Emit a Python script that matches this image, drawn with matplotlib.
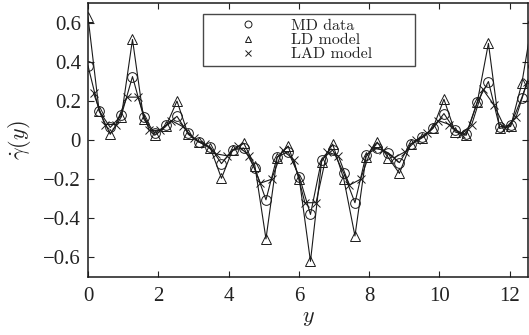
import numpy as np
import matplotlib
matplotlib.use("Agg")
import matplotlib.pyplot as plt
from matplotlib.lines import Line2D

plt.rcParams['mathtext.fontset'] = 'cm'
plt.rcParams['axes.unicode_minus'] = True

# grid spacing of the sampled profile (y coordinate)
dy = 0.3165
n_pts = 41

md_data = [0.38, 0.15, 0.065, 0.127, 0.325, 0.12, 0.035, 0.075, 0.122, 0.035,
           -0.01, -0.035, -0.12, -0.05, -0.04, -0.145, -0.305, -0.085, -0.06, -0.187,
           -0.38,
           -0.10, -0.05, -0.17, -0.32, -0.075, -0.04, -0.065, -0.115, -0.02,
           0.015, 0.06, 0.136, 0.05, 0.03, 0.195, 0.30, 0.068, 0.076, 0.217, 0.38]

ld_model = [0.63, 0.15, 0.03, 0.12, 0.515, 0.11, 0.025, 0.07, 0.20, 0.03,
            -0.01, -0.04, -0.195, -0.05, -0.015, -0.13, -0.505, -0.09, -0.03, -0.20,
            -0.62,
            -0.11, -0.02, -0.20, -0.49, -0.085, -0.01, -0.09, -0.17, -0.02,
            0.01, 0.06, 0.209, 0.042, 0.025, 0.195, 0.495, 0.06, 0.07, 0.29, 0.63]

# LAD model sampled at mid points of the grid
lad_model = [0.24, 0.08, 0.08, 0.22, 0.22, 0.05, 0.05, 0.10, 0.07, 0.01,
             -0.02, -0.07, -0.08, -0.03, -0.08, -0.22, -0.20, -0.05, -0.10, -0.32,
             -0.32, -0.06, -0.08, -0.23, -0.20, -0.04, -0.05, -0.09, -0.06, 0.0,
             0.035, 0.10, 0.08, 0.03, 0.08, 0.26, 0.18, 0.06, 0.12, 0.30]

x_ticks = [0, 2, 4, 6, 8, 10, 12]
y_ticks = [-0.6, -0.4, -0.2, 0, 0.2, 0.4, 0.6]
labels = ['MD data', 'LD model', 'LAD model']

y_grid = np.arange(n_pts) * dy
y_mid = (np.arange(len(lad_model)) + 0.5) * dy

W, H = 529, 335
fig = plt.figure(figsize=(W / 100, H / 100), dpi=100)
ax = fig.add_axes([88 / W, 1 - 277 / H, 440 / W, 273.7 / H])

col = '#1a1a1a'
lw = 0.8
ax.plot(y_grid, ld_model, '-', color=col, lw=lw, marker='^', ms=7, mfc='none',
        mec=col, mew=0.7)
ax.plot(y_grid, md_data, '-', color=col, lw=lw, marker='o', ms=7, mfc='none',
        mec=col, mew=0.7)
ax.plot(y_mid, lad_model, '-', color=col, lw=lw, marker='x', ms=5.5,
        mec=col, mew=0.7)

ax.set_xlim(0, 12.52)
ax.set_ylim(-0.7, 0.7)
ax.set_xticks(x_ticks)
ax.set_yticks(y_ticks)
ax.set_xticklabels([str(t) for t in x_ticks])
ax.set_yticklabels(['\u2212' + ('%g' % abs(t)) if t < 0 else ('%g' % t) for t in y_ticks])
for lab in ax.get_xticklabels() + ax.get_yticklabels():
    lab.set_fontfamily('Liberation Serif')
    lab.set_fontsize(15)
    lab.set_color('#222222')
ax.tick_params(direction='in', length=4, width=0.8, top=True, right=True,
               pad=5, colors='#222222')
ax.tick_params(axis='x', pad=7)
for s in ax.spines.values():
    s.set_linewidth(1.1)
    s.set_color('#1a1a1a')

ax.set_xlabel('$y$', fontsize=16, labelpad=2, color='#222222')
ax.set_ylabel(r'$\dot{\gamma}(y)$', fontsize=16, labelpad=7, color='#222222')

handles = [Line2D([], [], ls='none', marker='o', ms=5, mfc='none', mec=col, mew=0.7),
           Line2D([], [], ls='none', marker='^', ms=5, mfc='none', mec=col, mew=0.7),
           Line2D([], [], ls='none', marker='x', ms=4.5, mec=col, mew=0.7)]
leg = ax.legend(handles, labels, loc='upper left', mode='expand',
                bbox_to_anchor=(0.261, 0.778, 0.482, 0.183),
                prop={'family': 'cmr10', 'size': 11.5},
                frameon=True, fancybox=False, handlelength=5.0, handletextpad=0.2,
                borderpad=0.3, labelspacing=0.0, borderaxespad=0.0)
leg.get_frame().set_edgecolor('#1a1a1a')
leg.get_frame().set_linewidth(1.0)
for t in leg.get_texts():
    t.set_color('#222222')

fig.savefig('out.png', dpi=100)
